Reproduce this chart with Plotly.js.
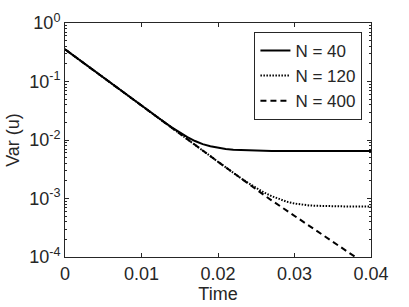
<!DOCTYPE html>
<html>
<head>
<meta charset="utf-8">
<script src="https://cdn.plot.ly/plotly-3.0.1.min.js"></script>
<style>html,body{margin:0;padding:0;background:#fff;}#chart{width:409px;height:307px;}</style>
</head>
<body>
<div id="chart"></div>
<script>
var time = [0,0.001,0.002,0.003,0.004,0.005,0.006,0.007,0.008,0.009,0.010,
  0.011,0.012,0.013,0.014,0.015,0.016,0.017,0.018,0.019,0.020,
  0.021,0.022,0.023,0.024,0.025,0.026,0.027,0.028,0.029,0.030,
  0.031,0.032,0.033,0.034,0.035,0.036,0.037,0.038,0.039,0.040];

var varN40 = [0.355,0.284,0.227,0.182,0.146,0.117,0.0938,0.0752,0.0603,0.0483,0.0387,
  0.0310,0.0249,0.0201,0.0163,0.0134,0.0112,0.0096,0.0085,0.0078,0.0073,
  0.0070,0.0068,0.0067,0.0066,0.0066,0.0066,0.0065,0.0065,0.0065,0.0065,
  0.0065,0.0065,0.0065,0.0065,0.0065,0.0065,0.0065,0.0065,0.0065,0.0065];

var varN120 = [0.355,0.284,0.227,0.182,0.146,0.117,0.0938,0.0752,0.0603,0.0483,0.0387,
  0.0310,0.0249,0.0200,0.0160,0.0128,0.0103,0.00824,0.00661,0.00530,0.00425,
  0.00340,0.00274,0.00222,0.00182,0.00151,0.00127,0.00110,0.00097,0.00088,0.00082,
  0.00078,0.00076,0.00075,0.00074,0.00073,0.00073,0.00073,0.00073,0.00073,0.00073];

var varN400 = [0.355,0.284,0.227,0.182,0.146,0.117,0.0938,0.0752,0.0603,0.0483,0.0387,
  0.0310,0.0249,0.0200,0.0160,0.0128,0.0103,0.00824,0.00661,0.00530,0.00425,
  0.00340,0.00273,0.00219,0.00174,0.00141,0.00115,0.00093,0.00076,0.00062,0.00050,
  0.000407,0.000331,0.000269,0.000221,0.000182,0.000148,0.000120,0.0000980,0.0000805,0.0000660];

var seriesNames = ['N = 40', 'N = 120', 'N = 400'];
var yTickVals = [1e-4, 1e-3, 1e-2, 1e-1, 1];
var yTickText = ['10<sup>-4</sup>', '10<sup>-3</sup>', '10<sup>-2</sup>', '10<sup>-1</sup>', '10<sup>0</sup>'];
var xTickVals = [0, 0.01, 0.02, 0.03, 0.04];
var xTickText = ['0', '0.01', '0.02', '0.03', '0.04'];

// minor log ticks (2..9 per decade)
var minorVals = [];
for (var e = -4; e < 0; e++) {
  for (var m = 2; m <= 9; m++) minorVals.push(m * Math.pow(10, e));
}

var ink = '#262626';
var font = 'Liberation Sans, Arial, Helvetica, sans-serif';

var traces = [
  {x: time, y: varN40, name: seriesNames[0], mode: 'lines',
   line: {color: '#000', width: 2, dash: 'solid'}},
  {x: time, y: varN120, name: seriesNames[1], mode: 'lines',
   line: {color: '#000', width: 2, dash: '1.5px,1.5px'}},
  {x: time, y: varN400, name: seriesNames[2], mode: 'lines',
   line: {color: '#000', width: 2, dash: '6px,4px'}}
];

var layout = {
  width: 409, height: 307,
  margin: {l: 65, r: 38, t: 23, b: 50},
  paper_bgcolor: '#fff', plot_bgcolor: '#fff',
  font: {family: font, size: 18, color: ink},
  showlegend: true,
  legend: {x: 0.972, y: 0.962, xanchor: 'right', yanchor: 'top',
    bgcolor: '#fff', bordercolor: ink, borderwidth: 1,
    font: {family: font, size: 17, color: ink}, tracegroupgap: 0},
  xaxis: {
    range: [0, 0.04], tickmode: 'array', tickvals: xTickVals, ticktext: xTickText,
    ticks: 'inside', ticklen: 4, tickcolor: ink, showgrid: false, zeroline: false,
    showline: true, linecolor: ink, linewidth: 1, mirror: 'ticks',
    tickfont: {family: font, size: 18, color: ink},
    title: {text: 'Time', font: {family: font, size: 18, color: ink}, standoff: 1}
  },
  yaxis: {
    type: 'log', range: [-4, 0], tickmode: 'array', tickvals: yTickVals, ticktext: yTickText,
    ticks: 'inside', ticklen: 4, tickcolor: ink, showgrid: false, zeroline: false,
    showline: true, linecolor: ink, linewidth: 1, mirror: 'ticks',
    tickfont: {family: font, size: 18, color: ink},
    minor: {tickmode: 'array', tickvals: minorVals, ticks: 'inside', ticklen: 2, tickcolor: ink, showgrid: false},
    title: {text: 'Var (u)', font: {family: font, size: 18, color: ink}, standoff: 4}
  }
};

Plotly.newPlot('chart', traces, layout, {displayModeBar: false, staticPlot: true});
</script>
</body>
</html>
